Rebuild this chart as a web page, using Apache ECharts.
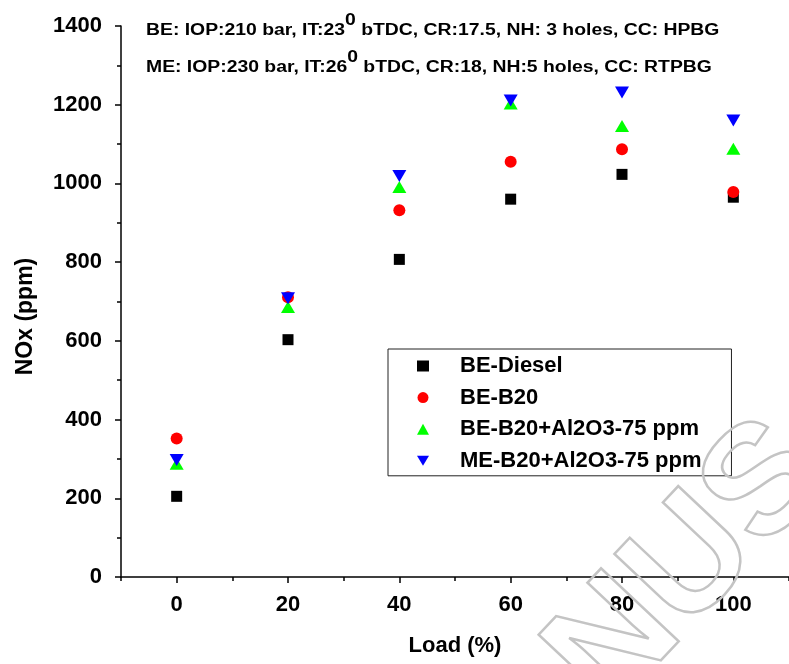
<!DOCTYPE html>
<html><head><meta charset="utf-8">
<script src="https://cdn.jsdelivr.net/npm/echarts@6/dist/echarts.min.js"></script>
<style>html,body{margin:0;padding:0;background:#fff}#c{width:789px;height:664px}</style>
</head><body><div id="c"></div>
<script>
const loads = [0, 20, 40, 60, 80, 100];
const beDiesel = [205, 603, 807, 960, 1023, 965];
const beB20 = [352, 711, 932, 1055, 1087, 978];
const beB20Al = [288, 686, 991, 1203, 1146, 1088];
const meB20Al = [297, 708, 1019, 1211, 1231, 1160];
const seriesNames = ['BE-Diesel', 'BE-B20', 'BE-B20+Al2O3-75 ppm', 'ME-B20+Al2O3-75 ppm'];
const xMajorTicks = [0, 20, 40, 60, 80, 100];
const xMinorTicks = [-10, 10, 30, 50, 70, 90, 110];
const annot1 = ['BE: IOP:210 bar, IT:23', '0', ' bTDC, CR:17.5, NH: 3 holes, CC: HPBG'];
const annot2 = ['ME: IOP:230 bar, IT:26', '0', ' bTDC, CR:18, NH:5 holes, CC: RTPBG'];

const font = 'Liberation Sans, Arial, sans-serif';
const chart = echarts.init(document.getElementById('c'));
const pair = (ys) => loads.map((x, i) => [x, ys[i]]);
const mk = (name, ys, symbol, size, color) => ({
  name, type: 'scatter', data: pair(ys), symbol, symbolSize: size,
  itemStyle: { color, opacity: 1 }, xAxisIndex: 0, yAxisIndex: 0
});
const richA = { fontSize: 16, fontWeight: 'bold', fill: '#000', fontFamily: font, verticalAlign: 'bottom', lineHeight: 26 };
const richS = { fontSize: 16, fontWeight: 'bold', fill: '#000', fontFamily: font, verticalAlign: 'top', lineHeight: 26 };
const annot = (parts, top) => ({
  type: 'text', x: 146, y: top, scaleX: 1.21,
  style: { text: '{a|' + parts[0] + '}{s|' + parts[1] + '}{a|' + parts[2] + '}', rich: { a: richA, s: richS } }
});
const downTri = 'path://M0,0 L12,0 L6,10 Z';
chart.setOption({
  animation: false,
  backgroundColor: '#fff',
  grid: { left: 121, top: 26, width: 675.6, height: 551, containLabel: false },
  xAxis: [{
    type: 'value', min: -10, max: 110, interval: 10,
    axisLine: { onZero: false, lineStyle: { color: '#000', width: 1.5 } },
    axisTick: { customValues: xMajorTicks, length: 6, lineStyle: { color: '#000', width: 1.5 } },
    axisLabel: { customValues: xMajorTicks, margin: 17, fontSize: 22, fontWeight: 'bold', color: '#000', fontFamily: font },
    splitLine: { show: false },
    name: 'Load (%)', nameLocation: 'middle', nameGap: 58,
    nameTextStyle: { fontSize: 22, fontWeight: 'bold', color: '#000', fontFamily: font }
  }, {
    type: 'value', min: -10, max: 110, interval: 10, position: 'bottom',
    axisLine: { show: false, onZero: false },
    axisTick: { customValues: xMinorTicks, length: 4, lineStyle: { color: '#000', width: 1.5 } },
    axisLabel: { show: false }, splitLine: { show: false }
  }],
  yAxis: {
    type: 'value', min: 0, max: 1400, interval: 200,
    axisLine: { show: true, onZero: false, lineStyle: { color: '#000', width: 1.5 } },
    axisTick: { show: true, length: 6, lineStyle: { color: '#000', width: 1.5 } },
    minorTick: { show: true, splitNumber: 2, length: 4, lineStyle: { color: '#000', width: 1.5 } },
    axisLabel: { margin: 19, fontSize: 22, fontWeight: 'bold', color: '#000', fontFamily: font, formatter: (v) => String(v) },
    splitLine: { show: false },
    name: 'NOx (ppm)', nameLocation: 'middle', nameGap: 84, nameRotate: 90,
    nameTextStyle: { fontSize: 23, fontWeight: 'bold', color: '#000', fontFamily: font, padding: [0, 30, 0, 0] }
  },
  legend: {
    orient: 'vertical', left: 388, top: 349,
    data: [
      { name: seriesNames[0] },
      { name: seriesNames[1] },
      { name: seriesNames[2] },
      { name: seriesNames[3], icon: downTri }
    ],
    backgroundColor: '#fff', borderColor: '#222', borderWidth: 1,
    padding: [6, 30, 4, 29], itemGap: 9.6, itemWidth: 12, itemHeight: 11,
    textStyle: { fontSize: 22, lineHeight: 22, fontWeight: 'bold', color: '#000', fontFamily: font, padding: [0, 0, 0, 26] }
  },
  graphic: [
    annot(annot1, 13), annot(annot2, 50),
    {
      type: 'text', x: 578, y: 686, rotation: Math.PI * 0.26, z: 100, silent: true,
      style: { text: 'NUS', font: 'bold 155px Liberation Sans', fill: 'transparent', stroke: '#c4c4c4', lineWidth: 2.5, verticalAlign: 'middle' }
    }
  ],
  series: [
    mk(seriesNames[0], beDiesel, 'rect', 11, '#000000'),
    mk(seriesNames[1], beB20, 'circle', 12, '#ff0000'),
    mk(seriesNames[2], beB20Al, 'triangle', [14, 12], '#00ff00'),
    { ...mk(seriesNames[3], meB20Al, 'triangle', [14, 12], '#0000ff'), symbolRotate: 180 }
  ]
});
</script></body></html>
